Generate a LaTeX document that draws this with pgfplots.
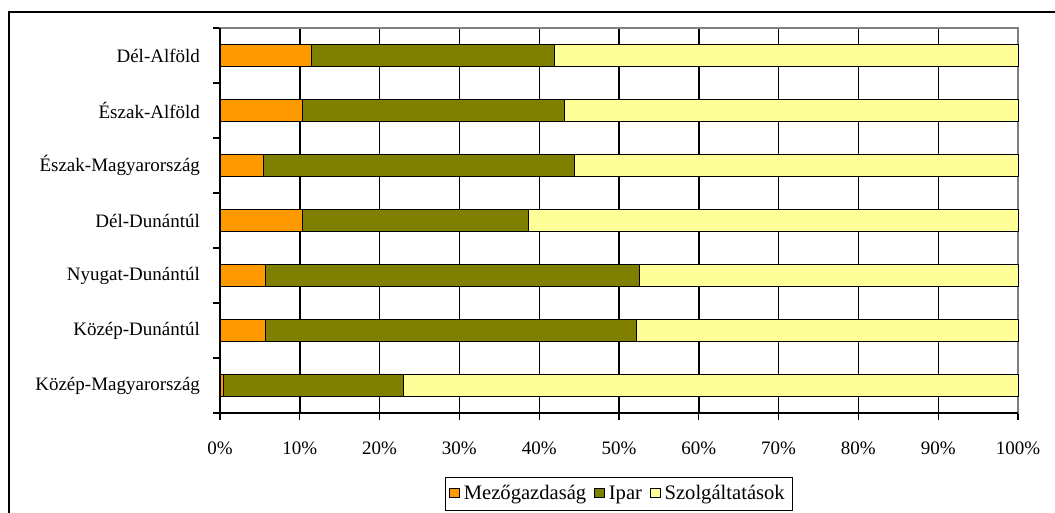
\documentclass[border=0pt]{standalone}
\usepackage{pgfplots}
\pgfplotsset{compat=1.18}
\usepackage{fontspec}
\setmainfont{Liberation Serif}

\definecolor{mezo}{HTML}{FF9900}
\definecolor{ipar}{HTML}{808000}
\definecolor{szolg}{HTML}{FFFF99}

\begin{document}
\begin{tikzpicture}[x=1pt,y=1pt]
\useasboundingbox (0,0) rectangle (527.5,256.5);
\clip (0,0) rectangle (527.5,256.5);
% outer chart frame (cropped on right and bottom)
\draw[line width=1pt] (4.5,-2) -- (4.5,250.5) -- (530,250.5);

\begin{axis}[
    at={(110pt,50pt)},
    anchor=south west,
    scale only axis,
    width=399pt,
    height=192.5pt,
    xbar stacked,
    bar width=11.3pt,
    xmin=0, xmax=100,
    ymin=-0.5, ymax=6.5,
    xtick={0,10,...,100},
    xticklabel={\pgfmathprintnumber{\tick}\%},
    ytick={0,...,6},
    yticklabels={Közép-Magyarország,Közép-Dunántúl,Nyugat-Dunántúl,Dél-Dunántúl,Észak-Magyarország,Észak-Alföld,Dél-Alföld},
    minor ytick={-0.5,0.5,...,6.5},
    xtick pos=bottom,
    ytick pos=left,
    major y tick style={draw=none},
    minor y tick style={black, line width=0.6pt},
    major x tick style={black, line width=0.6pt},
    major tick length=3.5pt,
    minor tick length=3.5pt,
    tick align=outside,
    xmajorgrids=true,
    grid style={black, line width=0.7pt},
    axis line style={draw=black!50, line width=0.6pt},
    tick label style={font=\fontsize{9.5}{11}\selectfont},
    /pgf/number format/assume math mode=true,
    yticklabel style={xshift=-3pt},
    xticklabel style={yshift=-7.5pt},
    legend style={
        at={(0.5,-0.21)},
        anchor=center,
        draw=black,
        line width=0.6pt,
        font=\fontsize{10.3}{12}\selectfont,
        legend columns=-1,
        inner ysep=2pt,
        inner xsep=2pt,
        /tikz/every even column/.append style={column sep=2pt}
    },
    legend image code/.code={
        \draw[#1, draw=black, line width=0.5pt] (0pt,-2pt) rectangle (4.8pt,2.8pt);
    },
    every axis plot/.append style={draw=black, line width=0.5pt},
    clip=false,
]
\addplot[fill=mezo] coordinates {
    (0.5,0) (5.7,1) (5.7,2) (10.3,3) (5.5,4) (10.3,5) (11.5,6)
};
\addplot[fill=ipar] coordinates {
    (22.5,0) (46.5,1) (46.9,2) (28.4,3) (38.9,4) (32.9,5) (30.4,6)
};
\addplot[fill=szolg] coordinates {
    (77.0,0) (47.8,1) (47.4,2) (61.3,3) (55.6,4) (56.8,5) (58.1,6)
};
\legend{Mezőgazdaság, Ipar, Szolgáltatások}
% black left and bottom axis lines
\draw[black, line width=0.6pt] (rel axis cs:0,1) -- (rel axis cs:0,0) -- (rel axis cs:1,0);
\end{axis}
\end{tikzpicture}
\end{document}
